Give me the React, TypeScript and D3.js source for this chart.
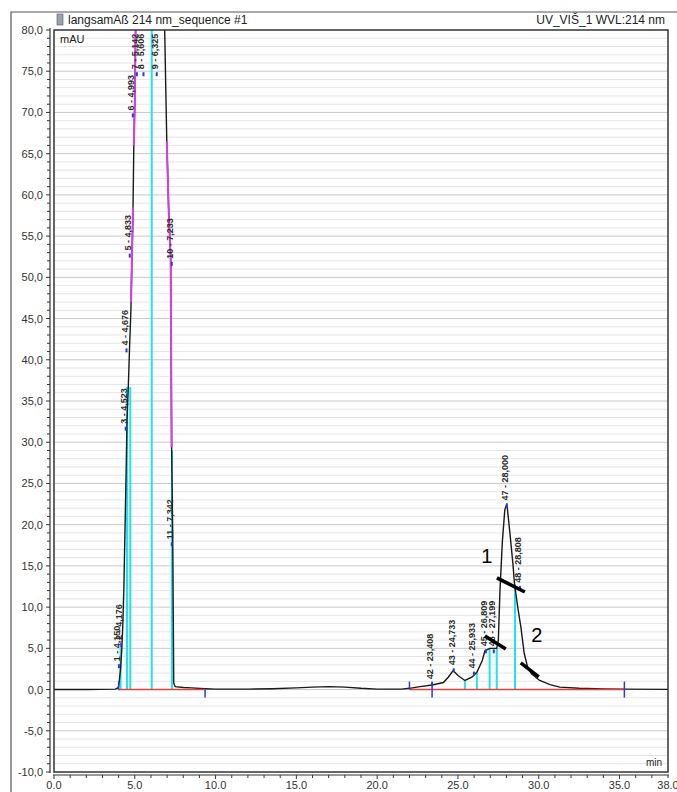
import React, { useEffect, useRef } from "react";
import * as d3 from "d3";

// chromatogram trace (retention time in min, signal in mAU)
const rtMin = [
  0, 2, 3.8, 3.95, 4.01, 4.12, 4.2, 4.26, 4.32, 4.4, 4.46, 4.52, 4.6, 4.68, 4.76, 4.83, 4.88, 4.94,
  5.0, 5.05, 5.15, 5.3, 5.6, 6.0, 6.3, 6.6, 6.8, 6.85, 6.98, 7.1, 7.22, 7.28, 7.35, 7.41, 7.5, 8.0,
  8.5, 9.35, 10, 12, 13.5, 15, 16, 17, 18, 19, 20, 21.5, 22, 22.65, 23.4, 24.1, 24.4, 24.7, 25.0,
  25.43, 25.86, 26.17, 26.5, 26.67, 26.97, 27.4, 27.5, 27.6, 27.75, 27.9, 28.0, 28.05, 28.2, 28.4,
  28.5, 28.7, 28.9, 29.1, 29.3, 29.55, 30.06, 30.7, 31.3, 32.5, 34, 35.3, 38,
];
const mAU = [
  0, 0, 0.05, 0.2, 0.5, 2.5, 5, 8, 12, 20, 26, 32.7, 36.8, 41.7, 46, 53, 57, 66,
  71, 80, 95, 115, 130, 128, 132, 115, 90, 80, 66.5, 58, 52.5, 29.4, 17.9, 0.8, 0.35, 0.25,
  0.2, 0.1, 0.05, 0.05, 0.1, 0.2, 0.3, 0.35, 0.3, 0.15, 0.05, 0.05, 0.15, 0.35, 0.55, 0.85, 1.5, 2.3, 1.7,
  1.1, 1.5, 2.1, 3.5, 4.7, 5.0, 5.0, 6, 12, 18, 21.8, 22.4, 22.1, 19.3, 15.3,
  12.8, 10, 7.5, 4.4, 2.8, 1.9, 1.1, 0.6, 0.3, 0.15, 0.08, 0.05, 0.02,
];

// peak labels: text, and where the label stands (min, mAU)
const peakText = [
  "1 - 4,150", "2 - 4,176", "3 - 4,523", "4 - 4,676", "5 - 4,833", "6 - 4,993", "7 - 5,142",
  "8 - 5,606", "9 - 6,325", "10 - 7,233", "11 - 7,342", "42 - 23,408", "43 - 24,733",
  "44 - 25,933", "45 - 26,809", "46 - 27,199", "47 - 28,000", "48 - 28,808",
];
const peakT = [4.08, 4.22, 4.5, 4.55, 4.75, 4.94, 5.19, 5.6, 6.42, 7.35, 7.35, 23.46, 24.8, 26.05, 26.79, 27.28, 28.09, 28.9];
const peakV = [3.2, 5.8, 32, 41.5, 53, 70, 75, 75, 75, 52, 18, 1, 2.7, 2.3, 5, 5, 22.7, 12.7];

// cyan drop lines (min, top in mAU)
const dropT = [4.12, 4.52, 4.72, 6.05, 7.3, 25.43, 26.17, 26.96, 27.4, 28.53];
const dropTop = [5.3, 36.7, 36.7, 90, 29, 1.1, 2.1, 5, 5, 12.8];

// baseline segments and delimiter ticks
const baseFrom = [3.97, 22.0];
const baseTo = [9.35, 35.3];
const delimT = [4.0, 9.35, 22.0, 23.4, 35.3];

// parts of the trace drawn in magenta
const fitFrom = [4.77, 4.94, 6.98];
const fitTo = [4.89, 5.1, 7.28];

const yTicks = d3.range(-10, 80.1, 5);
const xTicks = d3.range(0, 38.1, 5).concat([38]);

export default function App() {
  const svgRef = useRef<SVGSVGElement>(null);

  useEffect(() => {
    const svg = d3.select(svgRef.current);
    svg.selectAll("*").remove();

    const W = 677;
    const H = 792;
    const left = 54, right = 668, top = 30, bottom = 772;
    const font = "Arial, 'Liberation Sans', sans-serif";

    const x = d3.scaleLinear().domain([0, 38]).range([left, right]);
    const y = d3.scaleLinear().domain([-10, 80]).range([bottom, top]);

    svg.append("rect").attr("width", W).attr("height", H).attr("fill", "#fff");

    // outer frame + header
    svg.append("path")
      .attr("d", `M11,${H} V12 H${W}`)
      .attr("fill", "none").attr("stroke", "#555").attr("stroke-width", 1.2);
    svg.append("rect").attr("x", 57).attr("y", 14).attr("width", 6).attr("height", 11)
      .attr("fill", "#9aa4b0").attr("stroke", "#556").attr("stroke-width", 0.6);
    svg.append("text").attr("x", 68).attr("y", 24).attr("font-family", font)
      .attr("font-size", 12).attr("fill", "#222").text("langsamAß 214 nm_sequence #1");
    svg.append("text").attr("x", 665).attr("y", 24).attr("text-anchor", "end").attr("font-family", font)
      .attr("font-size", 12).attr("fill", "#222").text("UV_VIŠ_1 WVL:214 nm");

    // horizontal grid, every 1 mAU
    svg.append("g").selectAll("line")
      .data(d3.range(-9, 80, 1))
      .enter().append("line")
      .attr("x1", left).attr("x2", right)
      .attr("y1", (d) => y(d)).attr("y2", (d) => y(d))
      .attr("stroke", (d) => (d % 5 === 0 ? "#c8c8c8" : "#e4e4e4"))
      .attr("stroke-width", 1);

    // y axis
    const yAxis = svg.append("g").attr("transform", `translate(50,0)`);
    yAxis.append("line").attr("y1", top - 2).attr("y2", bottom + 1).attr("stroke", "#333").attr("stroke-width", 1.2);
    yAxis.selectAll(".minor").data(d3.range(-10, 80.1, 1)).enter().append("line")
      .attr("x1", (d) => (d % 5 === 0 ? -4 : -3)).attr("x2", 0)
      .attr("y1", (d) => y(d)).attr("y2", (d) => y(d)).attr("stroke", "#333");
    yAxis.selectAll("text").data(yTicks).enter().append("text")
      .attr("x", -7).attr("y", (d) => y(d) + 4).attr("text-anchor", "end")
      .attr("font-family", font).attr("font-size", 11).attr("fill", "#333")
      .text((d) => d3.format(".1f")(d).replace(".", ",").replace("−", "-"));

    // x axis
    const xAxis = svg.append("g").attr("transform", `translate(0,775)`);
    xAxis.append("line").attr("x1", left - 1).attr("x2", right + 1).attr("stroke", "#333").attr("stroke-width", 1);
    xAxis.selectAll(".minor").data(d3.range(0, 38.1, 1)).enter().append("line")
      .attr("x1", (d) => x(d)).attr("x2", (d) => x(d))
      .attr("y1", 0).attr("y2", (d) => (d % 5 === 0 ? 4 : 3)).attr("stroke", "#333");
    xAxis.selectAll("text").data(xTicks).enter().append("text")
      .attr("x", (d) => x(d)).attr("y", 14).attr("text-anchor", "middle")
      .attr("font-family", font).attr("font-size", 11).attr("fill", "#333")
      .text((d) => d3.format(".1f")(d));

    svg.append("text").attr("x", 60).attr("y", 43).attr("font-family", font)
      .attr("font-size", 11).attr("fill", "#222").text("mAU");
    svg.append("text").attr("x", 662).attr("y", 766).attr("text-anchor", "end").attr("font-family", font)
      .attr("font-size", 10).attr("fill", "#222").text("min");

    // clip to plot
    svg.append("clipPath").attr("id", "plotClip").append("rect")
      .attr("x", left).attr("y", top).attr("width", right - left).attr("height", bottom - top);
    const plot = svg.append("g").attr("clip-path", "url(#plotClip)");

    const pts: [number, number][] = rtMin.map((t, i) => [t, mAU[i]]);
    const interp = (t: number) => {
      const i = d3.bisector((p: [number, number]) => p[0]).left(pts, t);
      if (i <= 0) return pts[0][1];
      if (i >= pts.length) return pts[pts.length - 1][1];
      const [t0, v0] = pts[i - 1];
      const [t1, v1] = pts[i];
      return v0 + ((t - t0) / (t1 - t0)) * (v1 - v0);
    };
    const line = d3.line<[number, number]>().x((d) => x(d[0])).y((d) => y(d[1]));

    // cyan drop lines
    plot.selectAll(".drop").data(dropT).enter().append("line")
      .attr("x1", (d) => x(d)).attr("x2", (d) => x(d))
      .attr("y1", y(0)).attr("y2", (d, i) => y(dropTop[i]))
      .attr("stroke", "#1fe3ef").attr("stroke-width", 2);

    // trace
    plot.append("path").datum(pts).attr("d", line)
      .attr("fill", "none").attr("stroke", "#1a1a1a").attr("stroke-width", 1.4);

    // magenta fit segments
    fitFrom.forEach((t0, i) => {
      const t1 = fitTo[i];
      const seg: [number, number][] = [[t0, interp(t0)]];
      pts.forEach((p) => { if (p[0] > t0 && p[0] < t1) seg.push(p); });
      seg.push([t1, interp(t1)]);
      plot.append("path").datum(seg).attr("d", line)
        .attr("fill", "none").attr("stroke", "#d63ee0").attr("stroke-width", 2);
    });

    // red baselines
    baseFrom.forEach((t0, i) => {
      plot.append("line").attr("x1", x(t0)).attr("x2", x(baseTo[i]))
        .attr("y1", y(0)).attr("y2", y(0)).attr("stroke", "#e8403a").attr("stroke-width", 1.5);
    });

    // delimiter ticks
    plot.selectAll(".delim").data(delimT).enter().append("line")
      .attr("x1", (d) => x(d)).attr("x2", (d) => x(d))
      .attr("y1", (d) => y(0) - (d === 9.35 ? 0 : 8)).attr("y2", (d) => y(0) + (d === 22.0 || d === 4.0 ? 0 : 8))
      .attr("stroke", "#2a3ad8").attr("stroke-width", 1.5);

    // peak markers on the trace
    plot.selectAll(".mark").data(peakT).enter().append("line")
      .attr("x1", (d) => x(d) - 1).attr("x2", (d) => x(d) - 1)
      .attr("y1", (d, i) => y(peakV[i]) + 1).attr("y2", (d, i) => y(peakV[i]) + 5)
      .attr("stroke", "#2a3ad8").attr("stroke-width", 2);

    // peak labels
    plot.selectAll(".plabel").data(peakText).enter().append("text")
      .attr("transform", (d, i) => `translate(${x(peakT[i])},${y(peakV[i]) - 2}) rotate(-90)`)
      .attr("font-family", font).attr("font-size", 9).attr("font-weight", "bold")
      .attr("fill", "#2a2a2a").text((d) => d);

    // hand-drawn annotations
    const slashes: [number, number, number, number][] = [
      [27.41, 13.54, 29.14, 11.84],
      [26.67, 6.5, 27.96, 4.92],
      [28.89, 3.23, 30.0, 1.53],
    ];
    svg.selectAll(".slash").data(slashes).enter().append("line")
      .attr("x1", (d) => x(d[0])).attr("y1", (d) => y(d[1]))
      .attr("x2", (d) => x(d[2])).attr("y2", (d) => y(d[3]))
      .attr("stroke", "#000").attr("stroke-width", 3.5);
    const notes: [string, number, number][] = [["1", 26.79, 16.2], ["2", 29.88, 6.6]];
    svg.selectAll(".note").data(notes).enter().append("text")
      .attr("x", (d) => x(d[1])).attr("y", (d) => y(d[2]) + 7).attr("text-anchor", "middle")
      .attr("font-family", font).attr("font-size", 20).attr("fill", "#000").text((d) => d[0]);

    // plot frame
    svg.append("rect").attr("x", left).attr("y", top).attr("width", right - left).attr("height", bottom - top)
      .attr("fill", "none").attr("stroke", "#333").attr("stroke-width", 1.5);
  }, []);

  return (
    <svg ref={svgRef} width={677} height={792} style={{ position: "absolute", left: 0, top: 0 }}></svg>
  );
}
